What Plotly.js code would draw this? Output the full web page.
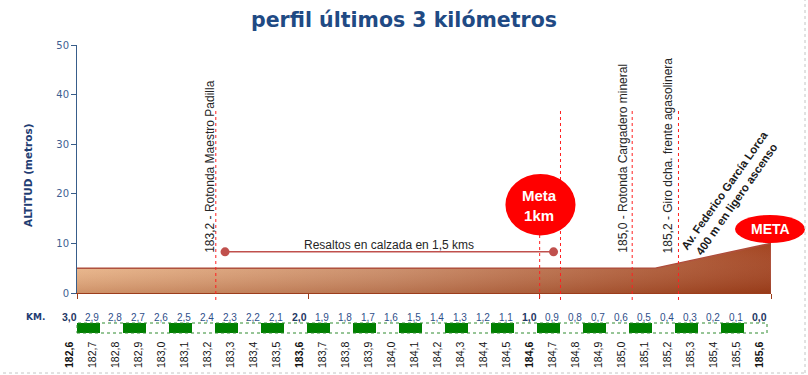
<!DOCTYPE html>
<html>
<head>
<meta charset="utf-8">
<script src="https://cdn.plot.ly/plotly-3.0.1.min.js"></script>
<style>html,body{margin:0;padding:0;background:#fff;}#chart{width:808px;height:375px;}</style>
</head>
<body>
<div id="chart"></div>
<script>
// ---- DATA ----
const profileKm = [182.6, 185.1, 185.6, 185.6];
const profileAlt = [5, 5, 10, 0];

const pkPositions = [182.6,182.7,182.8,182.9,183.0,183.1,183.2,183.3,183.4,183.5,183.6,183.7,183.8,183.9,184.0,184.1,184.2,184.3,184.4,184.5,184.6,184.7,184.8,184.9,185.0,185.1,185.2,185.3,185.4,185.5,185.6];
const pkLabels = ['182,6','182,7','182,8','182,9','183,0','183,1','183,2','183,3','183,4','183,5','183,6','183,7','183,8','183,9','184,0','184,1','184,2','184,3','184,4','184,5','184,6','184,7','184,8','184,9','185,0','185,1','185,2','185,3','185,4','185,5','185,6'];
const kmToGo = ['3,0','2,9','2,8','2,7','2,6','2,5','2,4','2,3','2,2','2,1','2,0','1,9','1,8','1,7','1,6','1,5','1,4','1,3','1,2','1,1','1,0','0,9','0,8','0,7','0,6','0,5','0,4','0,3','0,2','0,1','0,0'];
const boldPk = ['182,6','183,6','184,6','185,6'];

const poiKm = [183.2, 185.0, 185.2];
const poiText = ['183,2 - Rotonda Maestro Padilla', '185,0 - Rotonda Cargadero mineral', '185,2 - Giro dcha. frente agasolinera'];
const markerLinesKm = [183.2, 184.69, 185.0, 185.2];
const meta1kmKm = 184.6;

const resaltosKm = [183.24, 184.66];
const resaltosAlt = [8.3, 8.3];
const resaltosText = 'Resaltos en calzada en 1,5 kms';

const ascensoText = ['Av. Federico García Lorca', '400 m en ligero ascenso'];

// ---- helpers (pixel layout) ----
const plotTop = 45, plotBottom = 333, plotH = plotBottom - plotTop;
const py = p => (plotBottom - p) / plotH;
const px = p => (p - 77) / 694;

const stripX = [], stripY = [], stripC = [];
for (let i = 0; i < pkPositions.length - 1; i++) {
  stripX.push((pkPositions[i] + pkPositions[i + 1]) / 2);
  stripY.push(1);
  stripC.push(i % 2 === 0 ? '#008000' : '#ffffff');
}

const traces = [
  {
    x: profileKm, y: profileAlt, type: 'scatter', mode: 'lines', fill: 'tozeroy',
    line: {color: '#ad4a36', width: 1.6},
    fillgradient: {type: 'horizontal', colorscale: [[0, '#f0bd8f'], [0.45, '#cf916b'], [1, '#a3431f']]},
    hoverinfo: 'skip'
  },
  {
    x: profileKm, y: profileAlt, type: 'scatter', mode: 'none', fill: 'tozeroy',
    fillgradient: {type: 'vertical', colorscale: [[0, 'rgba(120,35,5,0.28)'], [1, 'rgba(255,255,255,0)']]},
    hoverinfo: 'skip'
  },
  {
    x: resaltosKm, y: resaltosAlt, type: 'scatter', mode: 'lines+markers',
    line: {color: '#c0504d', width: 1.5},
    marker: {color: '#c0504d', size: 9},
    hoverinfo: 'skip'
  },
  {
    x: stripX, y: stripY, base: 0, width: 0.1, type: 'bar', xaxis: 'x2', yaxis: 'y2',
    marker: {color: stripC, line: {width: 0}}, hoverinfo: 'skip'
  }
];

const shapes = [];
markerLinesKm.forEach(k => shapes.push({
  type: 'line', xref: 'x', yref: 'paper', x0: k, x1: k, y0: py(300), y1: py(109),
  line: {color: '#ff2020', width: 1, dash: 'dot'}
}));
shapes.push({type: 'line', xref: 'x', yref: 'paper', x0: meta1kmKm, x1: meta1kmKm, y0: py(298), y1: py(205),
  line: {color: '#ff2020', width: 1, dash: 'dot'}});
shapes.push({type: 'circle', xref: 'x', yref: 'y', x0: 184.452, x1: 184.755, y0: 11.6, y1: 24.0,
  fillcolor: '#ff0000', line: {width: 0}});
shapes.push({type: 'circle', xref: 'paper', yref: 'paper', x0: px(735), x1: px(805), y0: py(243), y1: py(215),
  fillcolor: '#ff0000', line: {width: 0}});
shapes.push({type: 'rect', xref: 'paper', yref: 'paper', x0: 0, x1: 690 / 694, y0: py(333), y1: py(323),
  line: {color: '#2e8b2e', width: 1, dash: 'dot'}});
shapes.push({type: 'line', xref: 'paper', yref: 'paper', x0: px(3), x1: px(805), y0: py(373), y1: py(373),
  line: {color: '#c4c4c4', width: 1, dash: 'dot'}});
shapes.push({type: 'line', xref: 'paper', yref: 'paper', x0: px(805), x1: px(805), y0: py(373), y1: py(0),
  line: {color: '#c4c4c4', width: 1, dash: 'dot'}});

const annotations = [];
annotations.push({xref: 'paper', yref: 'paper', x: px(28), y: py(175), text: '<b>ALTITUD (metros)</b>', textangle: -90,
  showarrow: false, font: {family: 'DejaVu Sans', size: 10.5, color: '#1f3d73'}, xanchor: 'center', yanchor: 'middle'});
annotations.push({xref: 'paper', yref: 'paper', x: px(35), y: py(317), text: '<b>KM.</b>', showarrow: false,
  font: {family: 'DejaVu Sans', size: 9, color: '#1f3d73'}, xanchor: 'center', yanchor: 'middle'});
pkPositions.forEach((k, i) => {
  const isBold = boldPk.indexOf(pkLabels[i]) >= 0;
  annotations.push({xref: 'x2', yref: 'paper', x: k, y: py(317), xshift: -8,
    text: isBold ? '<b>' + kmToGo[i] + '</b>' : kmToGo[i], showarrow: false,
    font: {family: 'Liberation Sans', size: isBold ? 10.5 : 10, color: isBold ? '#1f3864' : '#2f4f8a'},
    xanchor: 'center', yanchor: 'middle'});
  annotations.push({xref: 'x2', yref: 'paper', x: k, y: py(355), xshift: -8, textangle: -90,
    text: isBold ? '<b>' + pkLabels[i] + '</b>' : pkLabels[i], showarrow: false,
    font: {family: 'Liberation Sans', size: 10.5, color: '#111111'},
    xanchor: 'center', yanchor: 'middle'});
});
const poiShift = [-6, -10, -10];
poiKm.forEach((k, i) => annotations.push({xref: 'x', yref: 'paper', x: k, y: py(255), xshift: poiShift[i], textangle: -90,
  text: poiText[i], showarrow: false, font: {family: 'Liberation Sans', size: 12, color: '#262626'},
  xanchor: 'center', yanchor: 'bottom'}));
annotations.push({xref: 'x', yref: 'y', x: 183.95, y: 9.7, text: resaltosText, showarrow: false,
  font: {family: 'Liberation Sans', size: 12, color: '#262626'}, xanchor: 'center', yanchor: 'middle'});
annotations.push({xref: 'x', yref: 'y', x: meta1kmKm, y: 17.7, text: '<b>Meta</b><br><b>1km</b>', showarrow: false,
  font: {family: 'Liberation Sans', size: 15, color: '#ffffff'}, xanchor: 'center', yanchor: 'middle'});
annotations.push({xref: 'paper', yref: 'paper', x: px(770), y: py(229), text: '<b>META</b>', showarrow: false,
  font: {family: 'Liberation Sans', size: 14, color: '#ffffff'}, xanchor: 'center', yanchor: 'middle'});
annotations.push({xref: 'x', yref: 'y', x: 185.427, y: 19.8, textangle: -55,
  text: '<b>' + ascensoText[0] + '</b><br><b>' + ascensoText[1] + '</b>', showarrow: false,
  font: {family: 'Liberation Sans', size: 11.5, color: '#1a1a1a'}, xanchor: 'center', yanchor: 'middle'});

const layout = {
  width: 808, height: 375,
  margin: {l: 77, r: 37, t: plotTop, b: 375 - plotBottom, pad: 0},
  paper_bgcolor: '#ffffff', plot_bgcolor: '#ffffff',
  showlegend: false,
  title: {text: '<b>perfil últimos 3 kilómetros</b>', x: 0.5, xref: 'container', xanchor: 'center',
    y: 1 - 20 / 375, yref: 'container', yanchor: 'middle',
    font: {family: 'DejaVu Sans', size: 20.5, color: '#1f4a84'}},
  xaxis: {domain: [0, 1], anchor: 'y', range: [182.6, 185.6], showgrid: false, zeroline: false,
    showline: true, linecolor: '#9c3d1c', linewidth: 1, ticks: 'outside', ticklen: 5, tickcolor: '#9c3d1c',
    tickvals: [182.6, 183.6, 184.6, 185.6], showticklabels: false, fixedrange: true},
  yaxis: {domain: [py(293), 1], anchor: 'x', range: [0, 50], tick0: 0, dtick: 10, showgrid: false, zeroline: false,
    showline: true, linecolor: '#385d8a', linewidth: 1, ticks: 'outside', ticklen: 5, tickcolor: '#385d8a',
    tickfont: {family: 'DejaVu Sans', size: 10, color: '#3f5f92'}, fixedrange: true},
  xaxis2: {domain: [0, 690 / 694], anchor: 'y2', range: [182.6, 185.6], visible: false, fixedrange: true},
  yaxis2: {domain: [0, py(323)], anchor: 'x2', range: [0, 1], visible: false, fixedrange: true},
  bargap: 0,
  shapes: shapes,
  annotations: annotations
};

Plotly.newPlot('chart', traces, layout, {displayModeBar: false, staticPlot: true});
</script>
</body>
</html>
